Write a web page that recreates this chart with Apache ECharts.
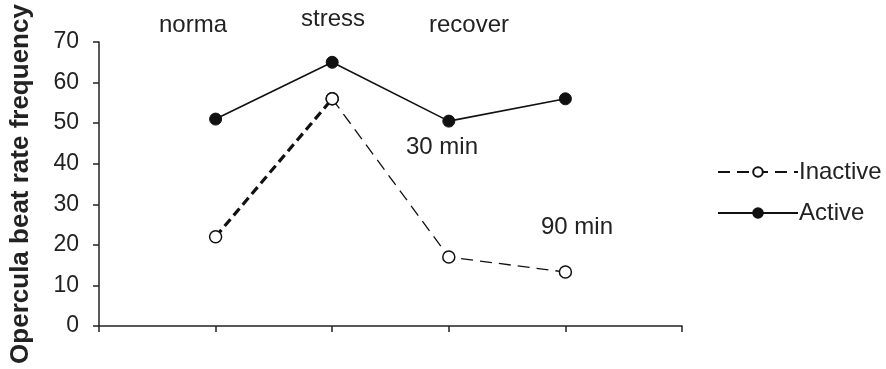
<!DOCTYPE html>
<html>
<head>
<meta charset="utf-8">
<script src="https://cdn.jsdelivr.net/npm/echarts@6/dist/echarts.min.js"></script>
<style>html,body{margin:0;padding:0;background:#fff;}#c{width:886px;height:369px;}</style>
</head>
<body>
<div id="c"></div>
<script>
// positions along the x axis (0..5), one per time point
var timePoints = [1, 2, 3, 4];
var inactive = [22, 56, 17, 13.3];
var active = [51, 65, 50.5, 56];
var yTicks = [0, 10, 20, 30, 40, 50, 60, 70];
var annotations = ['norma', 'stress', 'recover', '30 min', '90 min'];
var seriesNames = ['Inactive', 'Active'];
var yAxisTitle = 'Opercula beat rate frequency';

function pairs(xs, ys) { return xs.map(function (x, i) { return [x, ys[i]]; }); }
var inactivePts = pairs(timePoints, inactive);
var activePts = pairs(timePoints, active);

var FONT = 'Liberation Sans, Arial, sans-serif';
var TXT = '#222';
var annPos = [[193, 25], [333, 19], [469, 25], [442, 147], [577, 227]];

var chart = echarts.init(document.getElementById('c'));
chart.setOption({
  animation: false,
  grid: { left: 96, right: 204, top: 42, bottom: 43, containLabel: false },
  xAxis: {
    type: 'value', min: 0, max: 5, interval: 1,
    axisLine: { show: true, lineStyle: { color: TXT, width: 1.5 } },
    axisTick: { show: true, length: 6, lineStyle: { color: TXT, width: 1.5 } },
    axisLabel: { show: false },
    splitLine: { show: false }
  },
  yAxis: {
    type: 'value', min: yTicks[0], max: yTicks[yTicks.length - 1], interval: yTicks[1] - yTicks[0],
    name: yAxisTitle, nameLocation: 'middle', nameGap: 65,
    nameTextStyle: { fontFamily: FONT, fontSize: 26, fontWeight: 'bold', color: TXT },
    axisLine: { show: true, lineStyle: { color: TXT, width: 1.5 } },
    axisTick: { show: true, length: 6, lineStyle: { color: TXT, width: 1.5 } },
    axisLabel: { fontFamily: FONT, fontSize: 23, color: TXT, margin: 20 },
    splitLine: { show: false }
  },
  legend: {
    orient: 'vertical', left: 712, top: 155, itemWidth: 80, itemHeight: 12, itemGap: 17,
    data: seriesNames,
    textStyle: { fontFamily: FONT, fontSize: 24, color: TXT, padding: [0, 0, 0, -4] }
  },
  series: [
    {
      name: 'Inactive-start', type: 'line', data: inactivePts.slice(0, 2),
      symbol: 'circle', symbolSize: 12,
      itemStyle: { color: '#fff', borderColor: '#111', borderWidth: 1.5 },
      lineStyle: { color: '#111', width: 3.2, type: [9, 5] }, z: 2
    },
    {
      name: 'Inactive', type: 'line', data: inactivePts.slice(1),
      symbol: 'circle', symbolSize: 12,
      itemStyle: { color: '#fff', borderColor: '#111', borderWidth: 1.5 },
      lineStyle: { color: '#111', width: 1.3, type: [12, 7] }, z: 3
    },
    {
      name: 'Active', type: 'line', data: activePts,
      symbol: 'circle', symbolSize: 12,
      itemStyle: { color: '#111', borderColor: '#111', borderWidth: 1 },
      lineStyle: { color: '#111', width: 1.6 }, z: 4
    }
  ],
  graphic: annotations.map(function (t, i) {
    return {
      type: 'text', x: annPos[i][0], y: annPos[i][1],
      style: { text: t, fill: TXT, font: '24px ' + FONT, textAlign: 'center', textVerticalAlign: 'middle' }
    };
  })
});
</script>
</body>
</html>
